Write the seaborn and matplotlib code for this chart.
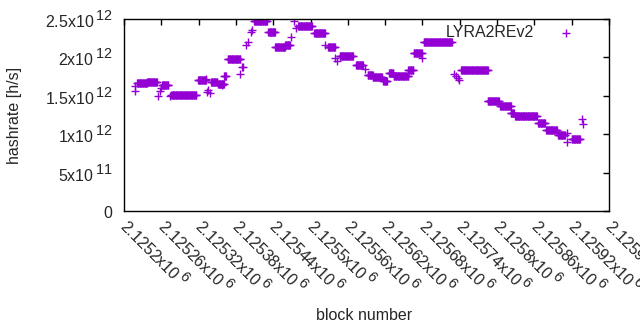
import numpy as np
import pandas as pd
import matplotlib
matplotlib.use("Agg")
import matplotlib.pyplot as plt
import matplotlib._mathtext as mathtext_internals
import seaborn as sns

# runs of consecutive blocks sharing the same hashrate estimate
run_start = [2125221, 2125237, 2125261, 2125276, 2125319, 2125340, 2125351, 2125361,
             2125367, 2125409, 2125432, 2125443, 2125459, 2125480, 2125506, 2125528,
             2125547, 2125573, 2125592, 2125600, 2125617, 2125626, 2125634, 2125658,
             2125666, 2125682, 2125742, 2125785, 2125805, 2125822, 2125829, 2125866,
             2125879, 2125898, 2125920]
run_end = [2125237, 2125253, 2125271, 2125316, 2125332, 2125350, 2125361, 2125364,
           2125387, 2125430, 2125443, 2125459, 2125467, 2125502, 2125523, 2125539,
           2125568, 2125584, 2125600, 2125615, 2125623, 2125633, 2125657, 2125665,
           2125679, 2125727, 2125785, 2125803, 2125822, 2125827, 2125864, 2125877,
           2125896, 2125909, 2125933]
run_rate = [1.667e12, 1.680e12, 1.641e12, 1.504e12, 1.706e12, 1.680e12, 1.660e12, 1.758e12,
            1.979e12, 2.474e12, 2.331e12, 2.135e12, 2.161e12, 2.409e12, 2.318e12, 2.135e12,
            2.018e12, 1.901e12, 1.771e12, 1.751e12, 1.693e12, 1.797e12, 1.758e12, 1.836e12,
            2.057e12, 2.200e12, 1.836e12, 1.426e12, 1.367e12, 1.276e12, 1.237e12, 1.146e12,
            1.055e12, 0.990e12, 0.931e12]

# single outlying blocks
pt_block = [2125218, 2125218, 2125255, 2125258, 2125260, 2125274, 2125332, 2125333,
            2125335, 2125338, 2125358, 2125387, 2125390, 2125391, 2125396, 2125399,
            2125404, 2125406, 2125469, 2125473, 2125477, 2125523, 2125539, 2125543,
            2125588, 2125657, 2125679, 2125731, 2125734, 2125737, 2125739, 2125912,
            2125912, 2125937, 2125938]
pt_rate = [1.566e12, 1.628e12, 1.497e12, 1.566e12, 1.601e12, 1.497e12, 1.719e12, 1.549e12,
           1.575e12, 1.536e12, 1.641e12, 1.784e12, 1.875e12, 1.875e12, 2.161e12, 2.200e12,
           2.331e12, 2.357e12, 2.265e12, 2.474e12, 2.383e12, 2.161e12, 1.992e12, 1.953e12,
           1.849e12, 1.836e12, 1.992e12, 1.784e12, 1.758e12, 1.732e12, 1.706e12, 0.898e12,
           1.016e12, 1.198e12, 1.133e12]

x_ticks = [2125200, 2125260, 2125320, 2125380, 2125440, 2125500, 2125560,
           2125620, 2125680, 2125740, 2125800, 2125860, 2125920, 2125980]
x_tick_labels = ["2.1252", "2.12526", "2.12532", "2.12538", "2.12544", "2.1255", "2.12556",
                 "2.12562", "2.12568", "2.12574", "2.1258", "2.12586", "2.12592", "2.12598"]
y_ticks = [0, 5e11, 1e12, 1.5e12, 2e12, 2.5e12]
y_tick_labels = ["0", "5x10^{\\,11}", "1x10^{\\,12}", "1.5x10^{\\,12}", "2x10^{\\,12}",
                 "2.5x10^{\\,12}"]

blocks, rates = [], []
for s, e, r in zip(run_start, run_end, run_rate):
    for b in range(s, e + 1):
        blocks.append(b)
        rates.append(r)
blocks += pt_block
rates += pt_rate
df = pd.DataFrame({"block": blocks, "hashrate": rates})

sns.set_style("white")
plt.rcParams["font.family"] = ["Liberation Sans", "DejaVu Sans"]
plt.rcParams["mathtext.fontset"] = "custom"
plt.rcParams["mathtext.rm"] = "Liberation Sans"
plt.rcParams["font.size"] = 11.5
# gnuplot draws exponents almost full size
mathtext_internals.SHRINK_FACTOR = 0.9

fig = plt.figure(figsize=(6.4, 3.3), dpi=100)
ax = fig.add_axes([124 / 640, 1 - 211 / 330, 485 / 640, 192 / 330])

sns.scatterplot(data=df, x="block", y="hashrate", marker="+", s=28, linewidth=1.0,
                color="#9400d3", label="LYRA2REv2", ax=ax)

ax.set_xlim(2125200, 2125980)
ax.set_ylim(0, 2.5e12)
ax.set_xticks(x_ticks)
ax.set_xticklabels([r"$\mathregular{%sx10^{\,6}}$" % t for t in x_tick_labels],
                   rotation=-45, ha="left", va="center", rotation_mode="anchor")
ax.set_yticks(y_ticks)
ax.set_yticklabels([r"$\mathregular{%s}$" % t for t in y_tick_labels])
ax.tick_params(direction="in", length=4, width=1, color="black", top=True, right=True,
               labelsize=11.5)
ax.tick_params(axis="y", pad=8)
ax.tick_params(axis="x", pad=8)
for sp in ax.spines.values():
    sp.set_visible(True)
    sp.set_color("black")
    sp.set_linewidth(1)
ax.set_xlabel("")
ax.set_ylabel("")
fig.text(15 / 640, 1 - 115 / 330, "hashrate [h/s]", rotation=90, ha="center", va="center",
         fontsize=11.5)
fig.text(364 / 640, 1 - 316 / 330, "block number", ha="center", va="center", fontsize=11.5)

ax.legend(loc="upper right", bbox_to_anchor=(0.991, 1.045), frameon=False, markerfirst=False,
          handlelength=3, handletextpad=0.55, fontsize=11.5)

fig.savefig("out.png", dpi=100)
